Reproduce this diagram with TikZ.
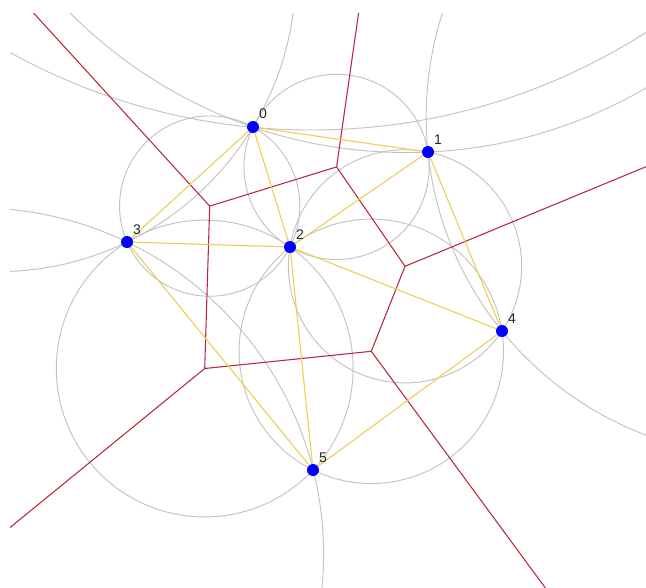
\documentclass[tikz,border=0pt]{standalone}
\usepackage{fontspec}
\setmainfont{Liberation Sans}
\definecolor{vred}{RGB}{185,40,60}
\definecolor{dyel}{RGB}{238,205,80}
\definecolor{cgray}{RGB}{195,195,195}
\definecolor{sblue}{RGB}{0,0,255}
\pgfdeclarelayer{bg}
\pgfsetlayers{bg,main}
\begin{document}
\begin{tikzpicture}[x=0.75pt,y=-0.75pt,
  site/.style={circle,fill=sblue,inner sep=0pt,minimum size=9pt},
  lab/.style={font=\fontsize{10.5}{12}\selectfont,text=black!85,inner sep=0pt},
  circ/.style={draw=cgray,line width=0.7pt},
  vor/.style={draw=vred,line width=0.8pt},
  del/.style={draw=dyel,line width=0.8pt}]
\useasboundingbox (0,0) rectangle (646,587);
% sites
\node[site] (s0) at (253,127) {};
\node[site] (s1) at (428,152) {};
\node[site] (s2) at (290,247) {};
\node[site] (s3) at (127,242) {};
\node[site] (s4) at (502,331) {};
\node[site] (s5) at (313,470) {};
% labels
\node[lab] (l0) at (263,114) {0};
\node[lab] (l1) at (438,140) {1};
\node[lab] (l2) at (300,235) {2};
\node[lab] (l3) at (137,230) {3};
\node[lab] (l4) at (512,319) {4};
\node[lab] (l5) at (323,458) {5};
% Voronoi vertices (circumcentres)
\coordinate (v023) at (209.7,206.1);
\coordinate (v012) at (336.6,166.9);
\coordinate (v124) at (405.0,266.3);
\coordinate (v245) at (371.3,351.3);
\coordinate (v235) at (204.7,368.5);
% centres of the outer circles
\coordinate (h30) at (-3,-27.1);
\coordinate (h01) at (406.6,-323.1);
\coordinate (h14) at (766,117.1);
\coordinate (h35) at (-23,554.5);
\coordinate (h45) at (649.3,729.3);
\coordinate (c0) at (311.2,-492.7);
\begin{pgfonlayer}{bg}
\fill[white] (0,0) rectangle (646,587);
\begin{scope}
\clip (10,13) rectangle (646,587);
% circumcircles
\draw[circ] (v023) circle[radius=90.15*0.75pt];
\draw[circ] (v012) circle[radius=92.63*0.75pt];
\draw[circ] (v124) circle[radius=116.6*0.75pt];
\draw[circ] (v245) circle[radius=132.2*0.75pt];
\draw[circ] (v235) circle[radius=148.4*0.75pt];
% outer circles
\draw[circ] (h30) circle[radius=298.8*0.75pt];
\draw[circ] (h01) circle[radius=475.6*0.75pt];
\draw[circ] (h14) circle[radius=339.8*0.75pt];
\draw[circ] (h35) circle[radius=346.6*0.75pt];
\draw[circ] (c0) circle[radius=622.7*0.75pt];
% Voronoi edges
\draw[vor] (v023) -- (v012) -- (v124) -- (v245) -- (v235) -- cycle;
\draw[vor] (v023) -- (h30);
\draw[vor] (v012) -- (h01);
\draw[vor] (v124) -- (h14);
\draw[vor] (v245) -- (h45);
\draw[vor] (v235) -- (h35);
\end{scope}
% Delaunay edges
\draw[del] (s0) -- (s1);
\draw[del] (s0) -- (s2);
\draw[del] (s0) -- (s3);
\draw[del] (s1) -- (s2);
\draw[del] (s1) -- (s4);
\draw[del] (s2) -- (s3);
\draw[del] (s2) -- (s4);
\draw[del] (s2) -- (s5);
\draw[del] (s3) -- (s5);
\draw[del] (s4) -- (s5);
\end{pgfonlayer}
\end{tikzpicture}
\end{document}
